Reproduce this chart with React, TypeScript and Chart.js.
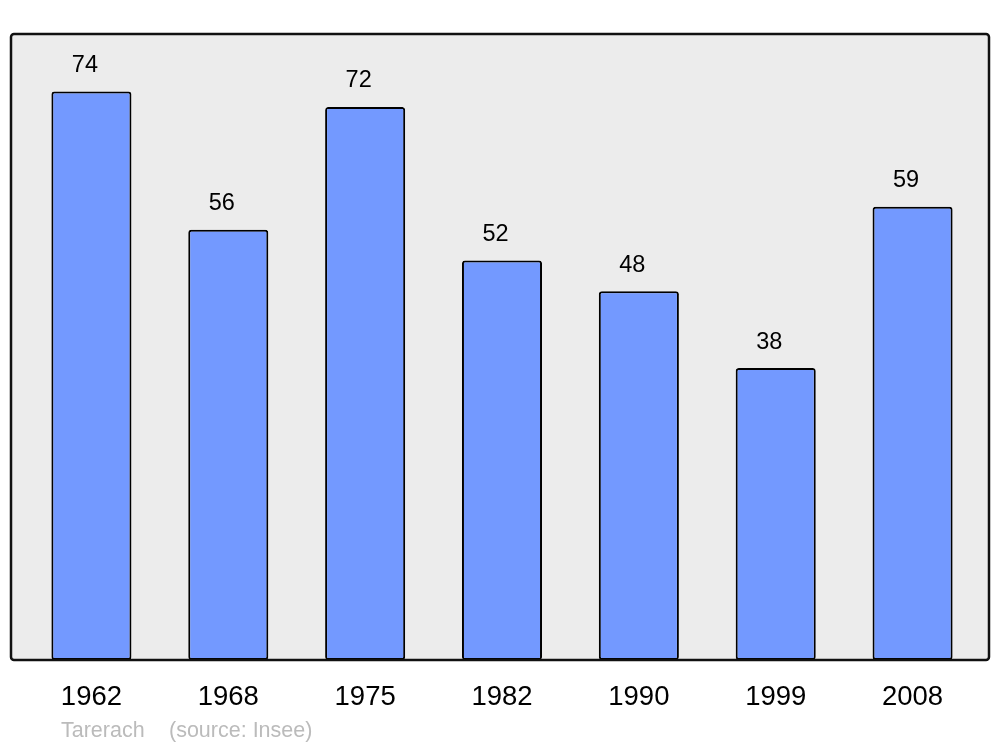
import React, { useEffect, useRef } from "react";
import { Chart, registerables } from "chart.js";

Chart.register(...registerables);

const years = ["1962", "1968", "1975", "1982", "1990", "1999", "2008"];
const population = [74, 56, 72, 52, 48, 38, 59];
const footerName = "Tarerach";
const footerSource = "(source: Insee)";

const FONT = "'Liberation Sans', Arial, sans-serif";

export default function App() {
  const ref = useRef<HTMLCanvasElement | null>(null);
  useEffect(() => {
    if (!ref.current) return;
    const boxPlugin = {
      id: "box",
      beforeDatasetsDraw(chart: any) {
        const ctx = chart.ctx;
        ctx.save();
        ctx.beginPath();
        ctx.roundRect(11, 34, 978, 626, 3);
        ctx.fillStyle = "#ececec";
        ctx.fill();
        ctx.restore();
      },
      afterDatasetsDraw(chart: any) {
        const ctx = chart.ctx;
        ctx.save();
        ctx.beginPath();
        ctx.roundRect(11, 34, 978, 626, 3);
        ctx.lineWidth = 2.5;
        ctx.strokeStyle = "#111";
        ctx.stroke();
        const meta = chart.getDatasetMeta(0);
        ctx.fillStyle = "#000";
        ctx.font = `23.5px ${FONT}`;
        ctx.textAlign = "center";
        ctx.textBaseline = "middle";
        meta.data.forEach((el: any, i: number) => {
          ctx.fillText(String(population[i]), el.x - 6.5, el.y - 26);
        });
        ctx.fillStyle = "#bbbbbb";
        ctx.font = `21.5px ${FONT}`;
        ctx.textAlign = "left";
        ctx.fillText(footerName, 61, 731);
        ctx.fillText(footerSource, 169, 731);
        ctx.restore();
      },
    };
    const chart = new Chart(ref.current, {
      type: "bar",
      data: {
        labels: years,
        datasets: [
          {
            data: population,
            backgroundColor: "#7399ff",
            borderColor: "#000",
            borderWidth: 2,
            borderRadius: 3,
            borderSkipped: false,
            categoryPercentage: 1,
            barPercentage: 0.585,
          },
        ],
      },
      options: {
        animation: false,
        responsive: false,
        layout: { padding: { left: 23, right: 19, top: 34, bottom: 0 } },
        plugins: { legend: { display: false }, tooltip: { enabled: false } },
        scales: {
          x: {
            grid: { display: false, drawTicks: false },
            border: { display: false },
            ticks: { color: "#000", font: { family: FONT, size: 27.5 }, padding: 21, maxRotation: 0 },
            afterFit: (s: any) => {
              s.height = 87;
            },
          },
          y: { display: false, min: 0, max: 81.5 },
        },
      },
      plugins: [boxPlugin],
    });
    return () => chart.destroy();
  }, []);
  return (
    <div style={{ position: "absolute", left: 0, top: 0, width: 1000, height: 747, background: "#fff" }}>
      <canvas ref={ref} width={1000} height={747} style={{ display: "block" }} />
    </div>
  );
}
